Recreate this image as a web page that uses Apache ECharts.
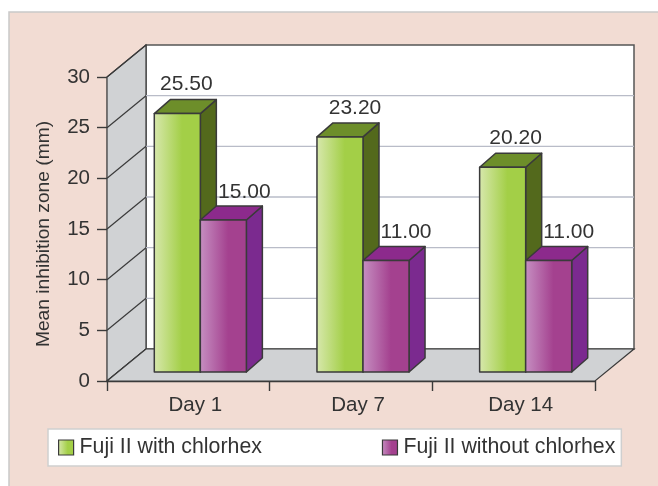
<!DOCTYPE html>
<html><head><meta charset="utf-8">
<style>html,body{margin:0;padding:0;background:#fff}#c{width:658px;height:486px}</style>
<script src="https://cdn.jsdelivr.net/npm/echarts@6/dist/echarts.min.js"></script>
</head><body><div id="c"></div>
<script>
const categories = ['Day 1', 'Day 7', 'Day 14'];
const withChlorhex = [25.5, 23.2, 20.2];
const withoutChlorhex = [15, 11, 11];
const yTicks = [0, 5, 10, 15, 20, 25, 30];
const seriesNames = ['Fuji II with chlorhex', 'Fuji II without chlorhex'];

const FONT = '"Liberation Sans", Arial, sans-serif';
const TXT = '#333333';
const LINE = '#3a3a3a';
const WALL = [39, -32];    // depth of the chart box in pixels
const BASE = [12, -9];     // bars stand this far into the floor
const DEPTH = [16, -14];   // bar depth
const greenLabelDx = [1, 7, 5];
const purpleLabelDx = [13, 12, 12];
const grad = (a, b) => ({type:'linear',x:0,y:0,x2:1,y2:0,colorStops:[{offset:0,color:a},{offset:0.6,color:b},{offset:1,color:b}]});
const greenFront = grad('#d8e8ae', '#a3cf47');
const purpleFront = grad('#c690c2', '#a4418f');

function box(api, catIdx, value, slot, front, top, side, labelDx, labelDy) {
  const w = api.size([1, 0])[0] * 0.283;
  const c = api.coord([catIdx, value]);
  const z = api.coord([catIdx, 0]);
  const x0 = c[0] + BASE[0] + (slot - 1) * w, x1 = x0 + w;
  const y0 = z[1] + BASE[1], y1 = c[1] + BASE[1];
  const dx = DEPTH[0], dy = DEPTH[1];
  const s = {stroke: LINE, lineWidth: 1.5, lineJoin: 'round'};
  return {type:'group', children:[
    {type:'polygon', shape:{points:[[x1,y0],[x1+dx,y0+dy],[x1+dx,y1+dy],[x1,y1]]}, style:{fill:side, ...s}},
    {type:'polygon', shape:{points:[[x0,y1],[x1,y1],[x1+dx,y1+dy],[x0+dx,y1+dy]]}, style:{fill:top, ...s}},
    {type:'rect', shape:{x:x0,y:y1,width:w,height:y0-y1}, style:{fill:front, ...s}},
    {type:'text', x:x0 + (w+dx)/2 + labelDx, y:y1+dy+labelDy, style:{text:value.toFixed(2), fill:TXT, font:'21px '+FONT, align:'center', verticalAlign:'middle'}}
  ]};
}

const option = {
  animation:false,
  backgroundColor:'#ffffff',
  graphic:[{type:'rect', z:-10, shape:{x:9,y:12,width:660,height:490}, style:{fill:'#f2dcd3', stroke:'#c9c9c9', lineWidth:1.5}}],
  grid:{left:107,right:63,top:77,bottom:105,containLabel:false},
  legend:{
    left:48, top:429, padding:[8,6,8,10], itemGap:120, itemWidth:15, itemHeight:15,
    backgroundColor:'#ffffff', borderColor:'#cfcfcf', borderWidth:1.5, borderRadius:0,
    data:seriesNames.map((n,i)=>({name:n, icon:'rect', itemStyle:{color:i?purpleFront:greenFront, borderColor:LINE, borderWidth:1.2}})),
    textStyle:{fontFamily:FONT,fontSize:21.3,color:TXT,padding:[0,0,0,1]}
  },
  xAxis:{type:'category',data:categories,
    axisLine:{lineStyle:{color:LINE,width:1.4}},
    axisTick:{show:true,length:10,alignWithLabel:false,lineStyle:{color:LINE,width:1.4}},
    axisLabel:{fontFamily:FONT,fontSize:20.5,color:TXT,margin:14,padding:[0,0,0,14]},
    splitLine:{show:false}},
  yAxis:{type:'value',min:0,max:30,interval:5,
    name:'Mean inhibition zone (mm)',nameLocation:'middle',nameRotate:90,nameGap:54,
    nameTextStyle:{fontFamily:FONT,fontSize:19.2,color:TXT,padding:[0,10,0,0]},
    axisLine:{show:true,lineStyle:{color:LINE,width:1.4}},
    axisTick:{show:true,length:10,lineStyle:{color:LINE,width:1.4}},
    axisLabel:{fontFamily:FONT,fontSize:20.5,color:TXT,margin:17},
    splitLine:{show:false}},
  series:[
    {type:'custom',name:'box',z:1,silent:true,data:[0],encode:{x:[],y:[]},
     renderItem(params,api){
       const o = api.coord([0,0]); const w = api.size([1,0])[0]*categories.length;
       const t = api.coord([0,30]); const h0=o[1], h1=t[1];
       const xl = o[0]-api.size([1,0])[0]/2, xr = xl+w;
       const d = WALL;
       const wall = {fill:'#d0d2d4', stroke:LINE, lineWidth:1.2};
       const kids = [
         {type:'rect',shape:{x:xl+d[0],y:h1+d[1],width:w,height:h0-h1},style:{fill:'#ffffff',stroke:'#555555',lineWidth:1.5}},
         {type:'polygon',shape:{points:[[xl,h0],[xl+d[0],h0+d[1]],[xl+d[0],h1+d[1]],[xl,h1]]},style:wall},
       ];
       yTicks.forEach(v=>{
         const y=api.coord([0,v])[1];
         if(v>0 && v<30) kids.push({type:'line',shape:{x1:xl+d[0],y1:y+d[1],x2:xr+d[0],y2:y+d[1]},style:{stroke:'#b9bcc8',lineWidth:1.4}});
         kids.push({type:'line',shape:{x1:xl,y1:y,x2:xl+d[0],y2:y+d[1]},style:{stroke:LINE,lineWidth:1.2}});
       });
       kids.push({type:'polygon',shape:{points:[[xl,h0],[xr,h0],[xr+d[0],h0+d[1]],[xl+d[0],h0+d[1]]]},style:wall});
       return {type:'group',children:kids};
     }},
    {type:'custom',name:seriesNames[0],z:2,itemStyle:{color:greenFront},data:withChlorhex.map((v,i)=>[i,v]),encode:{x:0,y:1},
     renderItem(p,api){const i=api.value(0);return box(api,i,api.value(1),0,greenFront,'#6d8e2a','#53691c',greenLabelDx[i],-15);}},
    {type:'custom',name:seriesNames[1],z:3,itemStyle:{color:purpleFront},data:withoutChlorhex.map((v,i)=>[i,v]),encode:{x:0,y:1},
     renderItem(p,api){const i=api.value(0);return box(api,i,api.value(1),1,purpleFront,'#8c2a8c','#7b2a8f',purpleLabelDx[i],-14);}}
  ]
};
echarts.init(document.getElementById('c'),null,{renderer:'canvas'}).setOption(option);
</script></body></html>
